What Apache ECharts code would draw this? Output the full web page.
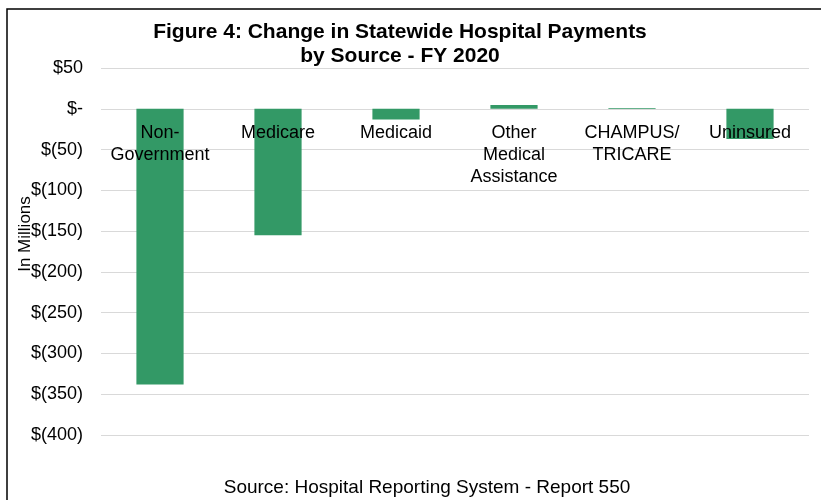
<!DOCTYPE html>
<html>
<head>
<meta charset="utf-8">
<script src="https://cdn.jsdelivr.net/npm/echarts@6/dist/echarts.min.js"></script>
<style>
  html, body { margin: 0; padding: 0; background: #fff; }
  #chart { width: 821px; height: 500px; }
</style>
</head>
<body>
<div id="chart"></div>
<script>
// categories and values (in millions)
const sources = ['Non-\nGovernment', 'Medicare', 'Medicaid', 'Other\nMedical\nAssistance', 'CHAMPUS/\nTRICARE', 'Uninsured']
const changes = [-338, -155, -13, 4.5, 1, -37]

const fmtMoney = v => {
  if (v === 0) return '$-'
  return v < 0 ? '$(' + Math.abs(v) + ')' : '$' + v
}

const chart = echarts.init(document.getElementById('chart'))
chart.setOption({
  animation: false,
  textStyle: { fontFamily: 'Liberation Sans, Arial, sans-serif' },
  title: {
    text: 'Figure 4: Change in Statewide Hospital Payments\nby Source - FY 2020',
    left: 395,
    textAlign: 'center',
    top: 15,
    textStyle: { fontSize: 21, fontWeight: 'bold', color: '#000', lineHeight: 24 }
  },
  grid: { left: 101, right: 12, top: 68, bottom: 65, containLabel: false, outerBoundsMode: 'none' },
  // labels hang just under the zero line, on top of the bars
  xAxis: {
    type: 'category',
    data: sources,
    position: 'top',
    z: 10,
    axisLine: { show: false, onZero: false },
    axisTick: { show: false },
    axisLabel: {
      inside: true,
      color: '#000',
      fontSize: 18,
      lineHeight: 22,
      margin: 54,
      interval: 0,
      verticalAlign: 'top'
    }
  },
  yAxis: {
    type: 'value',
    min: -400,
    max: 50,
    interval: 50,
    axisLine: { show: false },
    axisTick: { show: false },
    splitLine: { lineStyle: { color: '#d9d9d9', width: 1 } },
    axisLabel: { color: '#000', fontSize: 18, margin: 18, formatter: fmtMoney }
  },
  series: [{
    type: 'bar',
    data: changes,
    barWidth: '40%',
    itemStyle: { color: '#339966' }
  }],
  graphic: [
    {
      type: 'rect',
      shape: { x: 7, y: 9, width: 830, height: 520 },
      style: { fill: 'none', stroke: '#000', lineWidth: 1.5 },
      silent: true
    },
    {
      type: 'text',
      x: 25, y: 234,
      rotation: Math.PI / 2,
      style: {
        text: 'In Millions',
        fontSize: 17,
        fill: '#000',
        align: 'center',
        verticalAlign: 'middle',
        fontFamily: 'Liberation Sans, Arial, sans-serif'
      }
    },
    {
      type: 'text',
      x: 427, y: 488,
      style: {
        text: 'Source: Hospital Reporting System - Report 550',
        fontSize: 19,
        fill: '#000',
        align: 'center',
        verticalAlign: 'middle',
        fontFamily: 'Liberation Sans, Arial, sans-serif'
      }
    }
  ]
})
</script>
</body>
</html>
